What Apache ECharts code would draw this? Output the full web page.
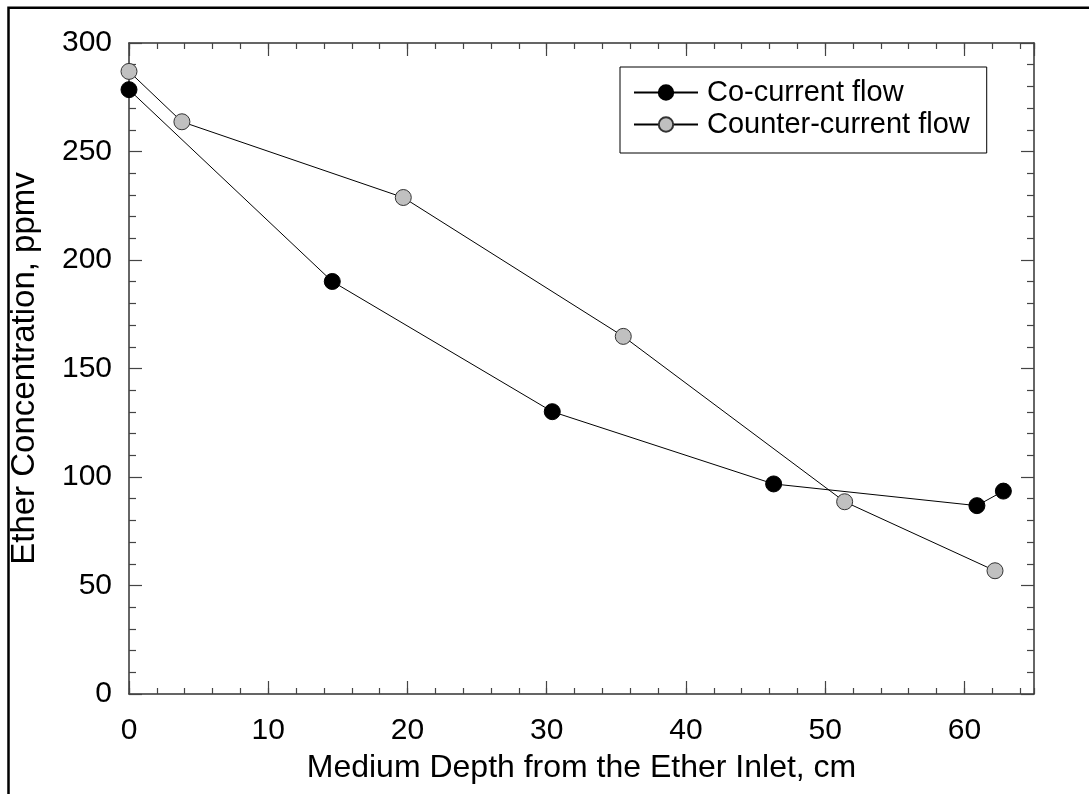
<!DOCTYPE html>
<html>
<head>
<meta charset="utf-8">
<script src="https://cdn.jsdelivr.net/npm/echarts@6/dist/echarts.min.js"></script>
<style>
html,body{margin:0;padding:0;background:#fff;}
#chart{width:1089px;height:794px;}
</style>
</head>
<body>
<div id="chart"></div>
<script>
// Data
const seriesNames = ['Co-current flow', 'Counter-current flow'];
const depthCo = [0, 14.6, 30.4, 46.3, 60.9, 62.8];
const concCo = [278.5, 190.1, 130.1, 96.8, 86.8, 93.5];
const depthCounter = [0, 3.8, 19.7, 35.5, 51.4, 62.2];
const concCounter = [286.9, 263.7, 228.8, 164.8, 88.6, 56.8];
const xTitle = 'Medium Depth from the Ether Inlet, cm';
const yTitle = 'Ether Concentration, ppmv';

const FONT = '"Liberation Sans", Arial, sans-serif';
const axisColor = '#333';
const tickColor = '#444';

function pairs(xs, ys) { return xs.map((x, i) => [x, ys[i]]); }

const chart = echarts.init(document.getElementById('chart'), null, {renderer: 'canvas'});

const xMajor = (pos, showLabels) => ({
  type: 'value', position: pos, min: 0, max: 65, interval: 10,
  axisLine: {show: true, onZero: false, lineStyle: {color: axisColor, width: 1.5}},
  axisTick: {show: true, inside: true, length: 13, lineStyle: {color: tickColor, width: 1.2}},
  axisLabel: {show: showLabels, margin: 22, fontSize: 30, color: '#000', fontFamily: FONT, showMaxLabel: false,
    formatter: v => (v % 10 === 0 ? String(v) : '')},
  splitLine: {show: false}
});
const xMinor = (pos) => ({
  type: 'value', position: pos, min: 0, max: 65, interval: 2,
  axisLine: {show: false, onZero: false},
  axisTick: {show: true, inside: true, length: 6, lineStyle: {color: tickColor, width: 1.2}},
  axisLabel: {show: false},
  splitLine: {show: false}
});
const yAx = (pos, showLabels) => ({
  type: 'value', position: pos, min: 0, max: 300, interval: 50,
  axisLine: {show: true, onZero: false, lineStyle: {color: axisColor, width: 1.5}},
  axisTick: {show: true, inside: true, length: 13, lineStyle: {color: tickColor, width: 1.2}},
  minorTick: {show: true, splitNumber: 5, length: 7, lineStyle: {color: tickColor, width: 1.2}},
  axisLabel: {show: showLabels, margin: 17, fontSize: 30, color: '#000', fontFamily: FONT},
  splitLine: {show: false}
});

const xAxes = [xMajor('bottom', true), xMinor('bottom'), xMajor('top', false), xMinor('top')];
xAxes[0].name = xTitle;
xAxes[0].nameLocation = 'middle';
xAxes[0].nameGap = 58;
xAxes[0].nameTextStyle = {fontSize: 32, color: '#000', fontFamily: FONT};

const yAxes = [yAx('left', true), yAx('right', false)];
yAxes[0].name = yTitle;
yAxes[0].nameLocation = 'middle';
yAxes[0].nameGap = 88;
yAxes[0].nameTextStyle = {fontSize: 33, color: '#000', fontFamily: FONT};

const option = {
  animation: false,
  backgroundColor: '#fff',
  grid: {left: 129, top: 43, right: 55, bottom: 100, containLabel: false},
  xAxis: xAxes,
  yAxis: yAxes,
  legend: {
    show: true,
    left: 620, top: 67,
    orient: 'vertical',
    data: seriesNames,
    itemWidth: 64, itemHeight: 18, itemGap: 3,
    padding: [11, 17, 14, 13],
    borderColor: '#000', borderWidth: 1,
    backgroundColor: '#fff',
    textStyle: {fontSize: 29, color: '#000', fontFamily: FONT, padding: [0, 0, 0, 4]}
  },
  graphic: [{
    type: 'rect', silent: true, z: 100,
    shape: {x: 8.5, y: 7.7, width: 1300, height: 1000},
    style: {fill: 'none', stroke: '#000', lineWidth: 2.5}
  }],
  series: [
    {
      name: seriesNames[0], type: 'line', xAxisIndex: 0, yAxisIndex: 0,
      data: pairs(depthCo, concCo),
      symbol: 'circle', symbolSize: 16, showAllSymbol: true,
      lineStyle: {color: '#000', width: 1},
      itemStyle: {color: '#000', borderColor: '#000', borderWidth: 1}
    },
    {
      name: seriesNames[1], type: 'line', xAxisIndex: 0, yAxisIndex: 0,
      data: pairs(depthCounter, concCounter),
      symbol: 'circle', symbolSize: 16, showAllSymbol: true,
      lineStyle: {color: '#000', width: 1},
      itemStyle: {color: '#c0c0c0', borderColor: '#333', borderWidth: 1}
    }
  ]
};
chart.setOption(option);
</script>
</body>
</html>
